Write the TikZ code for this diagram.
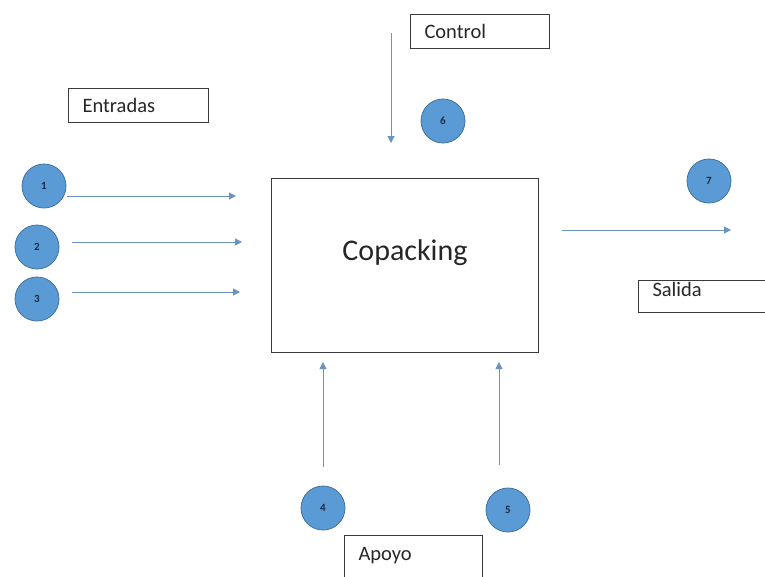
\documentclass[tikz,border=0pt]{standalone}
\usepackage{fontspec}
\setmainfont{Carlito}
\usetikzlibrary{arrows.meta}
\definecolor{cfill}{HTML}{5B9BD5}
\definecolor{cline}{HTML}{41719C}
\definecolor{arr}{HTML}{6A93C3}
\definecolor{boxline}{HTML}{3A3A3A}
\definecolor{numtxt}{HTML}{1B2A44}
\tikzset{
  num/.style={circle, fill=cfill, draw=cline, line width=0.8pt, minimum size=44pt, inner sep=0pt,
    font=\fontsize{11}{12}\selectfont\bfseries, text=numtxt},
  lbox/.style={draw=boxline, line width=1pt, anchor=north west, inner xsep=14pt, align=left,
    font=\fontsize{20.5}{23}\selectfont, text=black!85},
  flow/.style={draw=arr, line width=1pt, -{Triangle[length=7pt,width=7pt]}},
}
\begin{document}
\begin{tikzpicture}[x=1pt,y=-1pt]
\useasboundingbox (0,0) rectangle (765,576);
\clip (0,0) rectangle (765,576);
% main box
\node[draw=boxline, line width=1pt, anchor=north west, minimum width=267pt, inner sep=0pt,
  text height=82pt, text depth=92pt,
  font=\fontsize{30}{34}\selectfont, text=black!85] (main) at (271,178) {Copacking};
% label boxes
\node[lbox, minimum width=139pt, minimum height=34pt, text width=111pt] (control) at (410,14) {Control};
\node[lbox, minimum width=140pt, minimum height=34pt, text width=112pt] (entradas) at (68,88) {Entradas};
\node[lbox, minimum width=140pt, text width=112pt, inner xsep=12pt, inner ysep=0pt,
  text height=16pt, text depth=16pt] (salida) at (638,279.5) {Salida};
\node[lbox, minimum width=138pt, text width=110pt, inner ysep=0pt,
  text height=24.5pt, text depth=40pt] (apoyo) at (344,535) {Apoyo};
% circles
\node[num] (c1) at (44,186) {1};
\node[num] (c2) at (37,247) {2};
\node[num] (c3) at (37,299) {3};
\node[num] (c4) at (323,508) {4};
\node[num] (c5) at (508,510) {5};
\node[num] (c6) at (443,121) {6};
\node[num] (c7) at (709,181) {7};
% arrow endpoints
\coordinate (a1s) at (67,196);  \coordinate (a1e) at (236,196);
\coordinate (a2s) at (72,242);  \coordinate (a2e) at (242,242);
\coordinate (a3s) at (72,292);  \coordinate (a3e) at (240,292);
\coordinate (a4s) at (323,467); \coordinate (a4e) at (323,362);
\coordinate (a5s) at (499,465); \coordinate (a5e) at (499,362);
\coordinate (a6s) at (391,33);  \coordinate (a6e) at (391,143);
\coordinate (a7s) at (562,230); \coordinate (a7e) at (731,230);
\draw[flow] (a1s) -- (a1e);
\draw[flow] (a2s) -- (a2e);
\draw[flow] (a3s) -- (a3e);
\draw[flow] (a4s) -- (a4e);
\draw[flow] (a5s) -- (a5e);
\draw[flow] (a6s) -- (a6e);
\draw[flow] (a7s) -- (a7e);
\end{tikzpicture}
\end{document}
